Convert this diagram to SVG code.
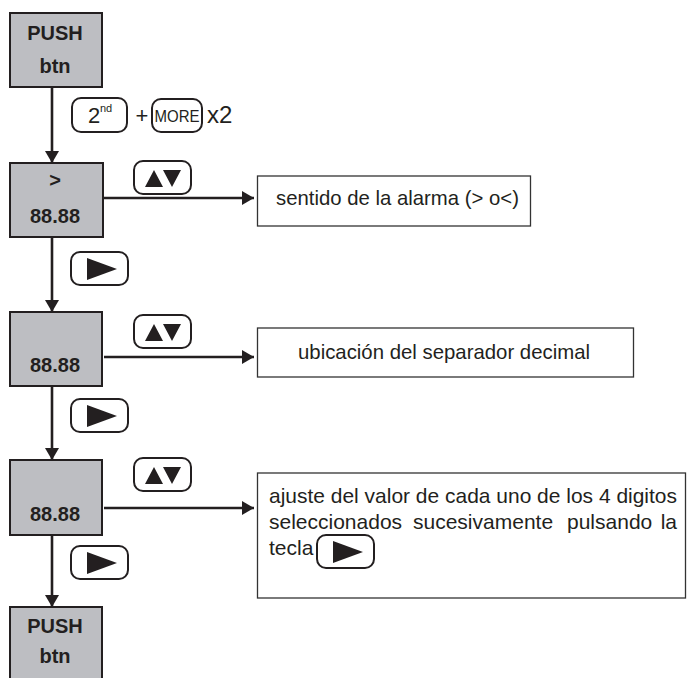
<svg xmlns="http://www.w3.org/2000/svg" xmlns:xlink="http://www.w3.org/1999/xlink" width="687" height="678" viewBox="0 0 687 678">
<style>
.box{fill:#bdbec2;stroke:#231f20;stroke-width:2}
.tbox{fill:#fff;stroke:#333;stroke-width:1.3}
.bt{font-family:"Liberation Sans",Arial,sans-serif;font-weight:bold;font-size:20px;fill:#231f20;text-anchor:middle}
.t{font-family:"Liberation Sans",Arial,sans-serif;font-size:21px;fill:#231f20}
.k{font-family:"Liberation Sans",Arial,sans-serif;fill:#231f20}
.key{fill:#fff;stroke:#231f20;stroke-width:2}
.ln{stroke:#231f20;stroke-width:2.6;fill:none}
.tri{fill:#231f20}
</style>
<defs>
<marker id="ah" viewBox="0 0 12 14" refX="12" refY="7" markerWidth="12" markerHeight="14" markerUnits="userSpaceOnUse" orient="auto">
<path d="M0,0 L12,7 L0,14 Z" fill="#231f20"/>
</marker>
<g id="kud">
<rect class="key" x="0" y="0" width="57" height="33" rx="9"/>
<path class="tri" d="M11,26 L20,9 L29,26 Z M29,9 L47,9 L38,26 Z"/>
</g>
<g id="kr">
<rect class="key" x="0" y="0" width="57" height="33" rx="9"/>
<path class="tri" d="M16,6 L46,17 L16,28 Z"/>
</g>
</defs>

<g id="connectors">
<line class="ln" x1="52" y1="87" x2="52" y2="163" marker-end="url(#ah)"/>
<line class="ln" x1="52" y1="237" x2="52" y2="312" marker-end="url(#ah)"/>
<line class="ln" x1="52" y1="386" x2="52" y2="460" marker-end="url(#ah)"/>
<line class="ln" x1="52" y1="535" x2="52" y2="607" marker-end="url(#ah)"/>
<line class="ln" x1="104" y1="198" x2="254" y2="198" marker-end="url(#ah)"/>
<line class="ln" x1="104" y1="357" x2="254" y2="357" marker-end="url(#ah)"/>
<line class="ln" x1="104" y1="508" x2="254" y2="508" marker-end="url(#ah)"/>
</g>

<g id="keys">
<rect class="key" x="72" y="98" width="55" height="34" rx="9"/>
<text class="k" x="88" y="123" font-size="22">2</text>
<text class="k" x="100" y="112" font-size="11">nd</text>
<text class="k" x="142" y="123" font-size="22" text-anchor="middle">+</text>
<rect class="key" x="152" y="99" width="50" height="33" rx="9"/>
<text class="k" x="177" y="122" font-size="16" text-anchor="middle" textLength="45" lengthAdjust="spacingAndGlyphs">MORE</text>
<text class="k" x="207" y="123" font-size="24">x2</text>
<use xlink:href="#kud" x="134" y="161"/>
<use xlink:href="#kr" x="71" y="252"/>
<use xlink:href="#kud" x="134" y="315"/>
<use xlink:href="#kr" x="71" y="399"/>
<use xlink:href="#kud" x="134" y="458"/>
<use xlink:href="#kr" x="71" y="546"/>
</g>

<g id="n1">
<rect class="box" x="10" y="13" width="92" height="74"/>
<text class="bt" x="55" y="40">PUSH</text>
<text class="bt" x="55" y="73">btn</text>
</g>
<g id="n2">
<rect class="box" x="10" y="163" width="93" height="74"/>
<text class="bt" x="55" y="187">&gt;</text>
<text class="bt" x="55" y="223">88.88</text>
</g>
<g id="n3">
<rect class="box" x="10" y="312" width="92" height="74"/>
<text class="bt" x="55" y="372">88.88</text>
</g>
<g id="n4">
<rect class="box" x="10" y="460" width="92" height="75"/>
<text class="bt" x="55" y="521">88.88</text>
</g>
<g id="n5">
<rect class="box" x="10" y="607" width="92" height="80"/>
<text class="bt" x="55" y="633">PUSH</text>
<text class="bt" x="55" y="663">btn</text>
</g>

<g id="d1">
<rect class="tbox" x="257.5" y="176" width="273" height="50"/>
<text class="t" x="276" y="205" textLength="243" lengthAdjust="spacingAndGlyphs">sentido de la alarma (&gt; o&lt;)</text>
</g>
<g id="d2">
<rect class="tbox" x="257.5" y="328" width="376" height="49"/>
<text class="t" x="298" y="359" textLength="292" lengthAdjust="spacingAndGlyphs">ubicación del separador decimal</text>
</g>
<g id="d3">
<rect class="tbox" x="257.5" y="473" width="428" height="125"/>
<text class="t" x="269" y="503" textLength="408" lengthAdjust="spacingAndGlyphs">ajuste del valor de cada uno de los 4 digitos</text>
<text class="t" y="529"><tspan x="269">seleccionados</tspan><tspan x="413">sucesivamente</tspan><tspan x="567">pulsando</tspan><tspan x="677" text-anchor="end">la</tspan></text>
<text class="t" x="269" y="555">tecla</text>
<use xlink:href="#kr" x="317" y="535"/>
</g>
</svg>
